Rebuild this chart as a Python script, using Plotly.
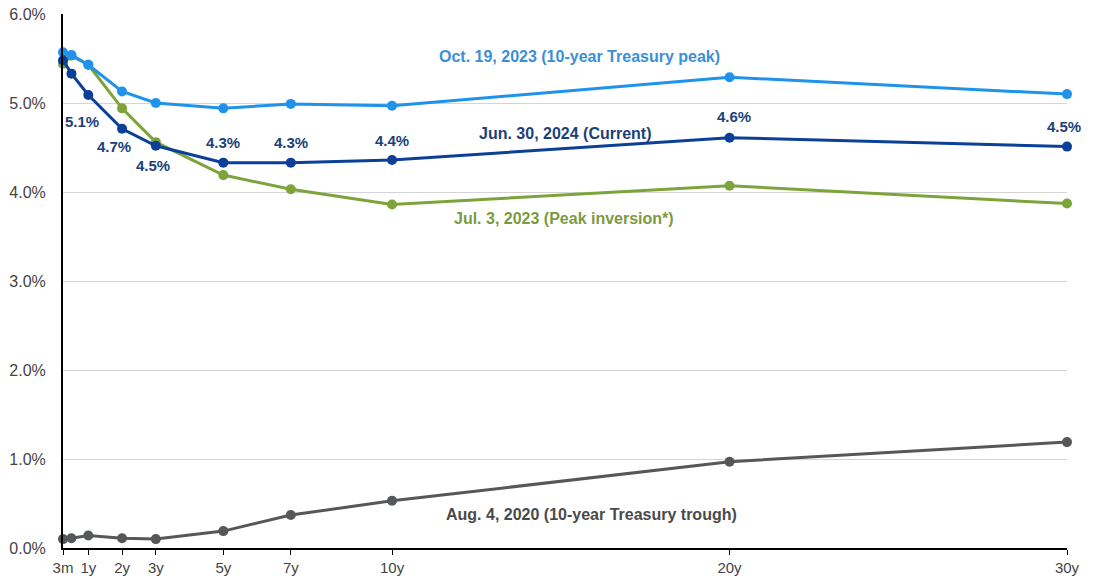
import plotly.graph_objects as go

# Maturities in years (3m, 6m, 1y, 2y, 3y, 5y, 7y, 10y, 20y, 30y)
maturities = [0.25, 0.5, 1, 2, 3, 5, 7, 10, 20, 30]

# Treasury yield curves (%)
oct_2023 = [5.57, 5.54, 5.43, 5.13, 5.00, 4.94, 4.99, 4.97, 5.29, 5.10]
jun_2024 = [5.48, 5.33, 5.09, 4.71, 4.52, 4.33, 4.33, 4.36, 4.61, 4.51]
jul_2023 = [5.44, 5.53, 5.43, 4.94, 4.56, 4.19, 4.03, 3.86, 4.07, 3.87]
aug_2020 = [0.10, 0.11, 0.14, 0.11, 0.10, 0.19, 0.37, 0.53, 0.97, 1.19]

tick_years = [0.25, 1, 2, 3, 5, 7, 10, 20, 30]
tick_text = ["3m", "1y", "2y", "3y", "5y", "7y", "10y", "20y", "30y"]
y_ticks = [0, 1, 2, 3, 4, 5, 6]
y_tick_text = ["0.0%", "1.0%", "2.0%", "3.0%", "4.0%", "5.0%", "6.0%"]

series = [
    ("Aug. 4, 2020 (10-year Treasury trough)", aug_2020, "#555759", "#4a4a4a", 15.9, 0.38),
    ("Jul. 3, 2023 (Peak inversion*)", jul_2023, "#7da43a", "#7b9a3f", 15.1, 3.70),
    ("Oct. 19, 2023 (10-year Treasury peak)", oct_2023, "#1f93ea", "#3a8fd6", 15.55, 5.52),
    ("Jun. 30, 2024 (Current)", jun_2024, "#0c3f98", "#203f78", 15.15, 4.66),
]

fig = go.Figure()
annotations = []
for name, vals, color, label_color, lx, ly in series:
    fig.add_trace(go.Scatter(
        x=maturities, y=vals, mode="lines+markers", name=name,
        line=dict(color=color, width=3),
        marker=dict(color=color, size=10),
        cliponaxis=False, showlegend=False,
    ))
    annotations.append(dict(
        x=lx, y=ly, xref="x", yref="y", text=name, showarrow=False,
        font=dict(family="Liberation Sans, Arial", size=16, color=label_color, weight="bold"),
    ))

# Value labels on the current curve (1y onward)
label_offsets = {1: (-6, -27), 2: (-8, -18), 3: (-3, -20), 5: (0, 20), 7: (0, 20),
                 10: (0, 19), 20: (4, 21), 30: (-3, 20)}
for m, v in zip(maturities, jun_2024):
    if m in label_offsets:
        dx, dy = label_offsets[m]
        annotations.append(dict(
            x=m, y=v, xref="x", yref="y", text=f"{v:.1f}%", showarrow=False,
            xshift=dx, yshift=dy,
            font=dict(family="Liberation Sans, Arial", size=15, color="#203f78", weight="bold"),
        ))

fig.update_layout(
    width=1097, height=579,
    margin=dict(l=63, r=30, t=14, b=31),
    paper_bgcolor="white", plot_bgcolor="white",
    font=dict(family="Liberation Sans, Arial", size=15, color="#444444"),
    annotations=annotations,
    xaxis=dict(
        range=[0.25, 30], tickvals=tick_years, ticktext=tick_text,
        showgrid=False, zeroline=False, automargin=False,
        showline=True, linecolor="black", linewidth=2,
        ticks="outside", ticklen=5, tickcolor="black", tickwidth=1,
        tickfont=dict(size=15, color="#444444"),
    ),
    yaxis=dict(
        range=[0, 6], tickvals=y_ticks, ticktext=y_tick_text,
        showgrid=True, gridcolor="#d4d4d4", gridwidth=1, zeroline=False,
        showline=True, linecolor="black", linewidth=2, automargin=False,
        ticks="", ticklabelstandoff=12,
        tickfont=dict(size=16, color="#444444"),
    ),
)

fig.write_html("out.html")
